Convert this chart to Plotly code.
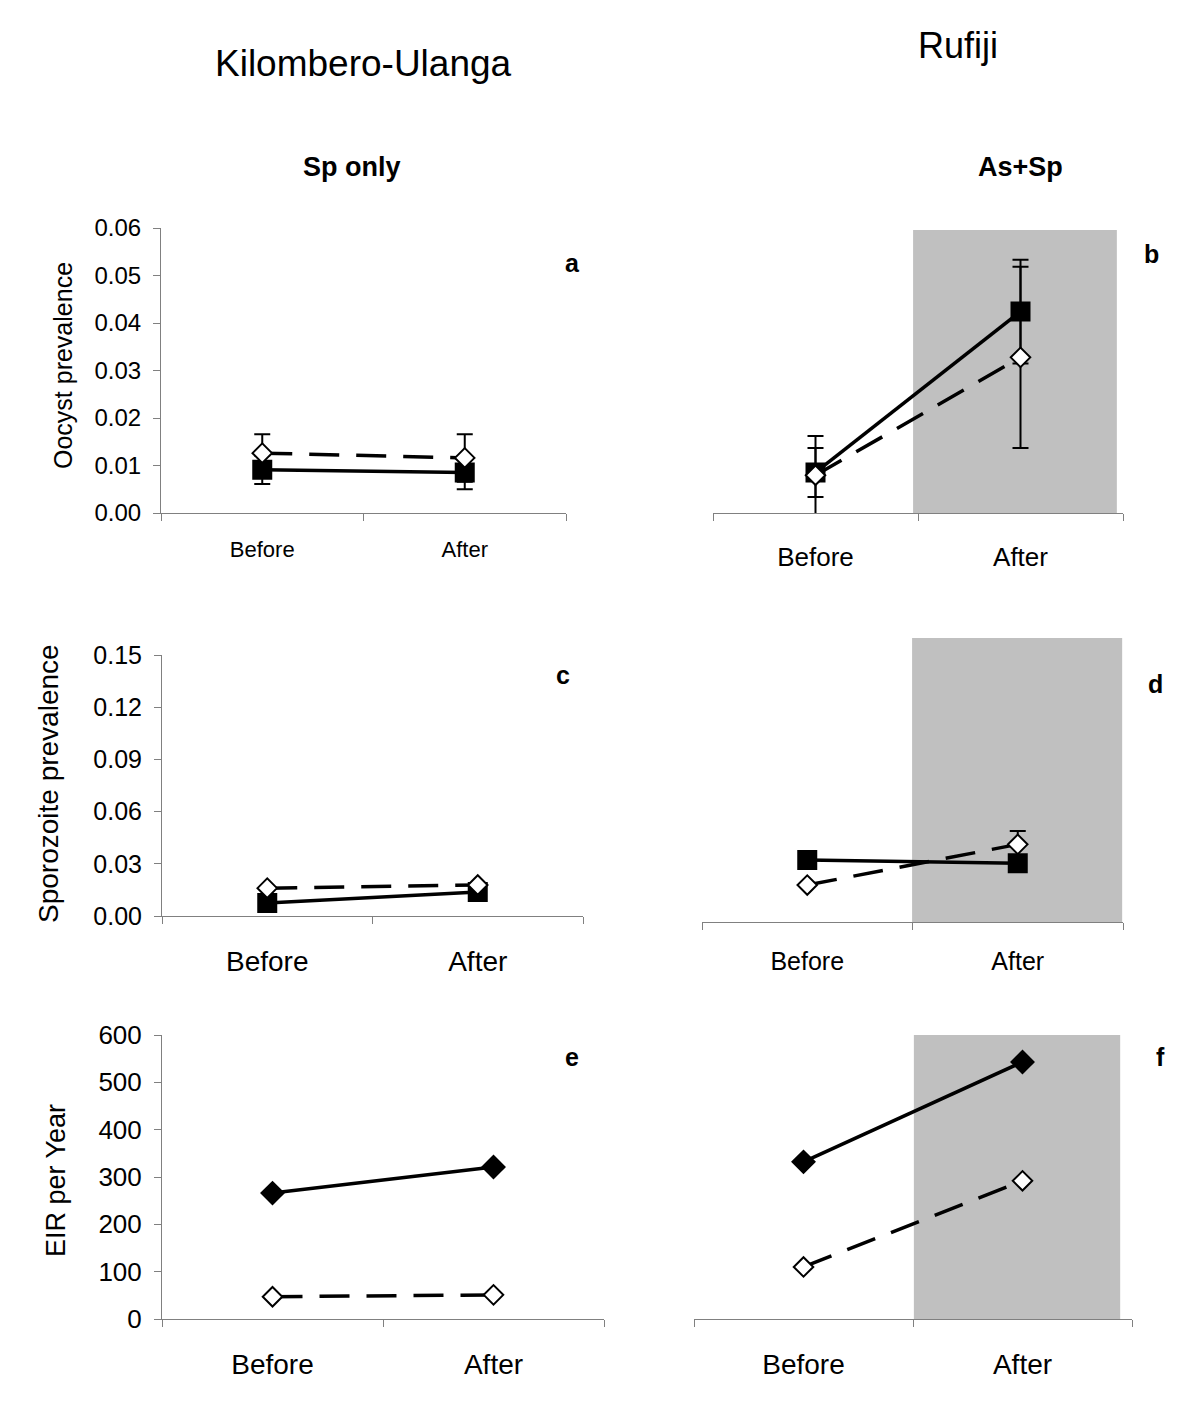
import plotly.graph_objects as go

# The page body has an 8 px margin, so the figure is sized to fit inside it.
PAGE_W, PAGE_H, BODY = 1200, 1419, 8
W, H = PAGE_W - 2 * BODY, PAGE_H - 2 * BODY
FONT = "Liberation Sans, Arial, Helvetica, sans-serif"

categories = ["Before", "After"]

# Panel a: Kilombero-Ulanga, Oocyst prevalence (Sp only)
a_square = [0.0091, 0.0085]
a_square_err = [0.0030, 0.0035]
a_diamond = [0.0126, 0.0116]
a_diamond_err = [0.0040, 0.0050]

# Panel b: Rufiji, Oocyst prevalence (As+Sp)
b_square = [0.0086, 0.0427]
b_square_err = [0.0052, 0.0110]
b_diamond = [0.0080, 0.0330]
b_diamond_err = [0.0083, 0.0192]

# Panel c: Kilombero-Ulanga, Sporozoite prevalence
c_square = [0.0075, 0.0138]
c_diamond = [0.0160, 0.0178]

# Panel d: Rufiji, Sporozoite prevalence
d_square = [0.0328, 0.0310]
d_square_err = [None, 0.0030]
d_diamond = [0.0195, 0.0410]
d_diamond_err = [None, 0.0070]

# Panel e: Kilombero-Ulanga, EIR per year
e_filled = [266, 321]
e_open = [47, 51]

# Panel f: Rufiji, EIR per year
f_filled = [332, 543]
f_open = [110, 292]

oocyst_ticks = [0.00, 0.01, 0.02, 0.03, 0.04, 0.05, 0.06]
sporo_ticks = [0.00, 0.03, 0.06, 0.09, 0.12, 0.15]
eir_ticks = [0, 100, 200, 300, 400, 500, 600]


def px_x(x0, x1):
    return [(x0 - BODY) / W, (x1 - BODY) / W]


def px_y(top, bottom):
    return [1 - (bottom - BODY) / H, 1 - (top - BODY) / H]


fig = go.Figure()

# panel geometry (page pixels): x0, x1, top, bottom
panels = {
    1: dict(x=(161, 566), y=(228, 513), rng=[0, 0.06], ticks=oocyst_ticks, showy=True, fmt=".2f", xfont=22, yfont=24, so=17),
    2: dict(x=(713, 1123), y=(230, 513), rng=[0, 0.06], ticks=oocyst_ticks, showy=False, fmt=".2f", xfont=26, yfont=24, so=21),
    3: dict(x=(162, 583), y=(655, 916), rng=[0, 0.15], ticks=sporo_ticks, showy=True, fmt=".2f", xfont=28, yfont=25, so=20),
    4: dict(x=(702, 1123), y=(638, 922), rng=[0, 0.15], ticks=sporo_ticks, showy=False, fmt=".2f", xfont=25, yfont=25, so=17),
    5: dict(x=(162, 604), y=(1035, 1319), rng=[0, 600], ticks=eir_ticks, showy=True, fmt="d", xfont=28, yfont=26, so=20),
    6: dict(x=(694, 1132), y=(1035, 1319), rng=[0, 600], ticks=eir_ticks, showy=False, fmt="d", xfont=28, yfont=26, so=20),
}

layout_axes = {}
for i, p in panels.items():
    xs = "xaxis" if i == 1 else f"xaxis{i}"
    ys = "yaxis" if i == 1 else f"yaxis{i}"
    layout_axes[xs] = dict(
        domain=px_x(*p["x"]), anchor="y" if i == 1 else f"y{i}",
        type="category", categoryorder="array", categoryarray=categories,
        range=[-0.5, 1.5], showgrid=False, zeroline=False, automargin=False,
        showline=True, linecolor="#808080", linewidth=1,
        ticks="outside", tickson="boundaries", ticklen=7, tickcolor="#808080",
        tickfont=dict(family=FONT, size=p["xfont"], color="black"),
        ticklabelstandoff=p["so"], fixedrange=True,
    )
    layout_axes[ys] = dict(
        domain=px_y(*p["y"]), anchor="x" if i == 1 else f"x{i}",
        range=p["rng"], tickvals=p["ticks"], tickformat=p["fmt"],
        showgrid=False, zeroline=False, visible=p["showy"], automargin=False,
        showline=True, linecolor="#808080", linewidth=1,
        ticks="outside", ticklen=7, tickcolor="#808080",
        tickfont=dict(family=FONT, size=p["yfont"], color="black"),
        ticklabelstandoff=7, fixedrange=True,
    )


def ax(i):
    return ("x", "y") if i == 1 else (f"x{i}", f"y{i}")


def add_series(i, vals, symbol, fill, dashed, size, err=None):
    xa, ya = ax(i)
    kw = {}
    if err is not None:
        kw["error_y"] = dict(type="data", array=err, visible=True, color="black", thickness=2, width=8)
    fig.add_trace(go.Scatter(
        x=categories, y=vals, xaxis=xa, yaxis=ya, mode="lines+markers",
        line=dict(color="black", width=3.5, dash="30px,17px" if dashed else "solid"),
        marker=dict(symbol=symbol, size=size, color=fill, line=dict(color="black", width=2)),
        showlegend=False, cliponaxis=False, **kw,
    ))


# a
add_series(1, a_square, "square", "black", False, 18, a_square_err)
add_series(1, a_diamond, "diamond", "white", True, 15, a_diamond_err)
# b
add_series(2, b_square, "square", "black", False, 18, b_square_err)
add_series(2, b_diamond, "diamond", "white", True, 15, b_diamond_err)
# c
add_series(3, c_square, "square", "black", False, 18)
add_series(3, c_diamond, "diamond", "white", True, 15)
# d
add_series(4, d_square, "square", "black", False, 18, d_square_err)
add_series(4, d_diamond, "diamond", "white", True, 15, d_diamond_err)
# e
add_series(5, e_filled, "diamond", "black", False, 17)
add_series(5, e_open, "diamond", "white", True, 15)
# f
add_series(6, f_filled, "diamond", "black", False, 17)
add_series(6, f_open, "diamond", "white", True, 15)

# shaded "After" regions in the Rufiji panels
shapes = []
for i, (x0, x1) in {2: (0.488, 0.985), 4: (0.499, 0.998), 6: (0.502, 0.973)}.items():
    shapes.append(dict(type="rect", xref=f"x{i} domain", yref=f"y{i} domain",
                       x0=x0, x1=x1, y0=0, y1=1, fillcolor="#c0c0c0",
                       line=dict(width=0), layer="below"))


def ann(text, x, y, size, bold=False, angle=0):
    return dict(text=f"<b>{text}</b>" if bold else text,
                x=(x - BODY) / W, y=1 - (y - BODY) / H,
                xref="paper", yref="paper", showarrow=False, textangle=angle,
                font=dict(family=FONT, size=size, color="black"),
                xanchor="center", yanchor="middle")


annotations = [
    ann("Kilombero-Ulanga", 363, 63, 37),
    ann("Rufiji", 958, 45, 36),
    ann("Sp only", 352, 167, 27, bold=True),
    ann("As+Sp", 1020, 167, 27, bold=True),
    ann("a", 572, 263, 25, bold=True),
    ann("b", 1151, 254, 25, bold=True),
    ann("c", 563, 675, 25, bold=True),
    ann("d", 1155, 684, 25, bold=True),
    ann("e", 572, 1057, 25, bold=True),
    ann("f", 1160, 1057, 25, bold=True),
    ann("Oocyst prevalence", 63, 366, 25, angle=-90),
    ann("Sporozoite prevalence", 48, 784, 28, angle=-90),
    ann("EIR per Year", 56, 1181, 27, angle=-90),
]

fig.update_layout(
    width=W, height=H, margin=dict(l=0, r=0, t=0, b=0, autoexpand=False),
    paper_bgcolor="white", plot_bgcolor="white",
    shapes=shapes, annotations=annotations, **layout_axes,
)

fig.write_html("out.html")
